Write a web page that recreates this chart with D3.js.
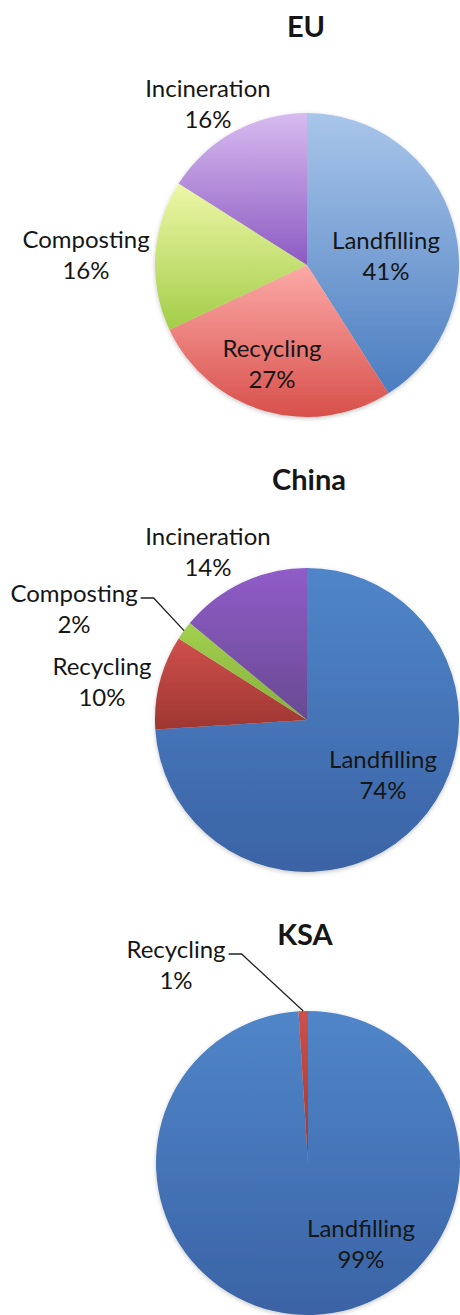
<!DOCTYPE html>
<html>
<head>
<meta charset="utf-8">
<script src="https://cdn.jsdelivr.net/npm/d3@7"></script>
<style>
  html, body { margin: 0; padding: 0; background: #ffffff; }
  svg { display: block; }
  text { font-family: Lato, "Open Sans", "DejaVu Sans", sans-serif; fill: #161616; }
</style>
</head>
<body>
<svg id="chart" width="460" height="1315"></svg>
<script>
// Municipal solid waste treatment shares by region
const regions = ["EU", "China", "KSA"];
const categories = ["Landfilling", "Recycling", "Composting", "Incineration"];
const euValues = [41, 27, 16, 16];
const chinaValues = [74, 10, 2, 14];
const ksaValues = [99, 1, 0, 0];

// Fill gradients (top, bottom) per category, one palette per pie
const lightPalette = [
  ["#a9c6ea", "#4b7dc0"],
  ["#fcaaa7", "#d8504b"],
  ["#eef7a8", "#a3cd48"],
  ["#d8bbf0", "#8c5ac2"]
];
const darkPalette = [
  ["#5086c9", "#3a63a5"],
  ["#cf504b", "#9e3632"],
  ["#a2d04e", "#86b03c"],
  ["#905cc8", "#684a92"]
];

// Layout of each pie: centre, radius, title baseline, label anchors
const layout = [
  { cx: 307, cy: 265, r: 152, titleX: 306, titleY: 37, palette: lightPalette,
    labels: [
      { x: 386, y: 249 },
      { x: 272, y: 357 },
      { x: 86, y: 248 },
      { x: 208, y: 97 }
    ] },
  { cx: 307, cy: 720, r: 152, titleX: 309, titleY: 490, palette: darkPalette,
    labels: [
      { x: 383, y: 768 },
      { x: 102, y: 675 },
      { x: 74, y: 602, leader: true },
      { x: 208, y: 545 }
    ] },
  { cx: 308, cy: 1163, r: 152, titleX: 305, titleY: 945, palette: darkPalette,
    labels: [
      { x: 361, y: 1237 },
      { x: 176, y: 958, leader: true },
      null,
      null
    ] }
];

const seriesValues = [euValues, chinaValues, ksaValues];
const lineGap = 31;

const svg = d3.select("#chart");
const defs = svg.append("defs");

defs.append("filter")
  .attr("id", "pie-shadow")
  .attr("x", "-10%").attr("y", "-10%")
  .attr("width", "120%").attr("height", "120%")
  .append("feDropShadow")
  .attr("dx", 0).attr("dy", 1.5)
  .attr("stdDeviation", 2)
  .attr("flood-color", "#000")
  .attr("flood-opacity", 0.22);

const pie = d3.pie().sort(null).value(d => d.value);

regions.forEach((region, ri) => {
  const conf = layout[ri];
  const data = categories.map((c, i) => ({ category: c, value: seriesValues[ri][i], index: i }));
  const arcs = pie(data);

  const arc = d3.arc().innerRadius(0).outerRadius(conf.r);
  const edgeArc = d3.arc().innerRadius(conf.r).outerRadius(conf.r);

  // per-slice vertical gradients
  conf.palette.forEach((pair, ci) => {
    const g = defs.append("linearGradient")
      .attr("id", `grad-${ri}-${ci}`)
      .attr("x1", 0).attr("y1", 0).attr("x2", 0).attr("y2", 1);
    g.append("stop").attr("offset", "0%").attr("stop-color", pair[0]);
    g.append("stop").attr("offset", "100%").attr("stop-color", pair[1]);
  });

  const group = svg.append("g")
    .attr("transform", `translate(${conf.cx},${conf.cy})`);

  group.append("g")
    .attr("filter", "url(#pie-shadow)")
    .selectAll("path")
    .data(arcs.filter(a => a.data.value > 0))
    .join("path")
    .attr("d", arc)
    .attr("fill", d => `url(#grad-${ri}-${d.data.index})`);

  // title
  svg.append("text")
    .attr("x", conf.titleX)
    .attr("y", conf.titleY)
    .attr("text-anchor", "middle")
    .attr("font-size", 29)
    .attr("font-weight", "bold")
    .text(region);

  // slice labels
  arcs.forEach(a => {
    const lab = conf.labels[a.data.index];
    if (!lab || a.data.value <= 0) return;
    const t = svg.append("text")
      .attr("text-anchor", "middle")
      .attr("font-size", 24);
    t.append("tspan").attr("x", lab.x).attr("y", lab.y).text(a.data.category);
    t.append("tspan").attr("x", lab.x).attr("y", lab.y + lineGap).text(`${a.data.value}%`);

    if (lab.leader) {
      const w = t.select("tspan").node().getComputedTextLength();
      const sx = lab.x + w / 2 + 3;
      const sy = lab.y - 4;
      const edge = edgeArc.centroid(a);
      const ex = conf.cx + edge[0];
      const ey = conf.cy + edge[1];
      svg.append("path")
        .attr("d", d3.line()([[sx, sy], [sx + 13, sy], [ex, ey]]))
        .attr("fill", "none")
        .attr("stroke", "#222")
        .attr("stroke-width", 1.3);
    }
  });
});
</script>
</body>
</html>
